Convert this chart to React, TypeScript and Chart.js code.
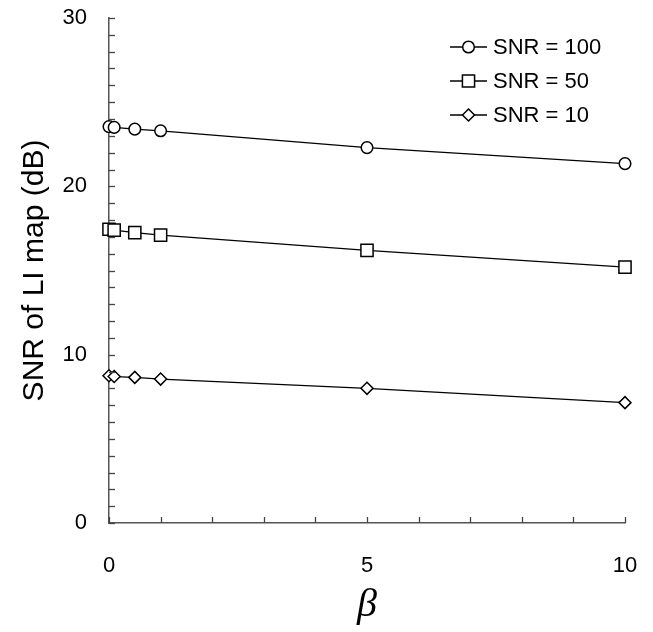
import React, { useEffect, useRef } from "react";
import { Chart, registerables } from "chart.js";

Chart.register(...registerables);

const betaValues = [0, 0.1, 0.5, 1, 5, 10];
const snr100 = [23.55, 23.5, 23.4, 23.3, 22.3, 21.35];
const snr50 = [17.45, 17.4, 17.25, 17.1, 16.2, 15.2];
const snr10 = [8.75, 8.7, 8.65, 8.55, 8.0, 7.15];
const seriesLabels = ["SNR = 100", "SNR = 50", "SNR = 10"];
const xLabelValues = [0, 5, 10];
const yLabelValues = [0, 10, 20, 30];

const FONT = "Arial, 'Liberation Sans', sans-serif";

const innerTicks = {
  id: "innerTicks",
  afterDatasetsDraw(chart: any) {
    const ctx = chart.ctx;
    const { left, bottom } = chart.chartArea;
    ctx.save();
    ctx.strokeStyle = "#444";
    ctx.lineWidth = 1.3;
    const xs = chart.scales.x;
    xs.ticks.forEach((t: any) => {
      const px = Math.round(xs.getPixelForValue(t.value)) + 0.5;
      ctx.beginPath();
      ctx.moveTo(px, bottom);
      ctx.lineTo(px, bottom - 6);
      ctx.stroke();
    });
    const ys = chart.scales.y;
    ys.ticks.forEach((t: any) => {
      const py = Math.round(ys.getPixelForValue(t.value)) + 0.5;
      ctx.beginPath();
      ctx.moveTo(left, py);
      ctx.lineTo(left + 6, py);
      ctx.stroke();
    });
    ctx.restore();
  },
};

const customLegend = {
  id: "customLegend",
  afterDraw(chart: any) {
    const ctx = chart.ctx;
    const x0 = 450;
    const lineLen = 37;
    const textX = 493;
    const rows = [47, 81, 115];
    ctx.save();
    chart.data.datasets.forEach((ds: any, i: number) => {
      const y = rows[i];
      ctx.strokeStyle = "#000";
      ctx.lineWidth = 1.3;
      ctx.beginPath();
      ctx.moveTo(x0, y);
      ctx.lineTo(x0 + lineLen, y);
      ctx.stroke();
      const cx = x0 + lineLen / 2;
      ctx.fillStyle = "#fff";
      ctx.lineWidth = 1.5;
      ctx.beginPath();
      if (ds.pointStyle === "circle") {
        ctx.arc(cx, y, ds.pointRadius, 0, Math.PI * 2);
      } else if (ds.pointStyle === "rect") {
        const s = ds.pointRadius * Math.SQRT1_2;
        ctx.rect(cx - s, y - s, 2 * s, 2 * s);
      } else {
        const r = ds.pointRadius;
        ctx.moveTo(cx - r, y);
        ctx.lineTo(cx, y - r);
        ctx.lineTo(cx + r, y);
        ctx.lineTo(cx, y + r);
        ctx.closePath();
      }
      ctx.fill();
      ctx.stroke();
      ctx.fillStyle = "#000";
      ctx.font = `22px ${FONT}`;
      ctx.textBaseline = "middle";
      ctx.textAlign = "left";
      ctx.fillText(ds.label, textX, y + 1);
    });
    ctx.restore();
  },
};

function makeDataset(label: string, values: number[], style: string, radius: number) {
  return {
    label,
    data: betaValues.map((b, i) => ({ x: b, y: values[i] })),
    borderColor: "#000",
    borderWidth: 1.3,
    pointStyle: style,
    pointRadius: radius,
    pointHoverRadius: radius,
    pointBackgroundColor: "#fff",
    pointBorderColor: "#000",
    pointBorderWidth: 1.5,
    tension: 0,
    clip: false as any,
  };
}

export default function App() {
  const canvasRef = useRef<HTMLCanvasElement | null>(null);

  useEffect(() => {
    const canvas = canvasRef.current;
    if (!canvas) return;
    const chart = new Chart(canvas, {
      type: "line",
      data: {
        datasets: [
          makeDataset(seriesLabels[0], snr100, "circle", 5.8),
          makeDataset(seriesLabels[1], snr50, "rect", 8.6),
          makeDataset(seriesLabels[2], snr10, "rectRot", 6),
        ],
      },
      options: {
        responsive: false,
        animation: false,
        events: [],
        layout: { padding: { top: 18, right: 28, left: 0, bottom: 0 } },
        plugins: {
          legend: { display: false },
          tooltip: { enabled: false },
        },
        scales: {
          x: {
            type: "linear",
            min: 0,
            max: 10,
            afterFit: (s: any) => {
              s.height = 109;
              s.paddingLeft = 0;
              s.paddingRight = 0;
            },
            grid: { display: false, drawTicks: false },
            border: { display: true, color: "#555", width: 1.5 },
            ticks: {
              stepSize: 1,
              autoSkip: false,
              maxRotation: 0,
              padding: 30,
              color: "#000",
              font: { family: FONT, size: 22 },
              callback: (v: any) => (xLabelValues.includes(Number(v)) ? String(v) : ""),
            },
            title: {
              display: true,
              text: "β",
              color: "#000",
              font: { family: "'Liberation Serif', 'Times New Roman', serif", size: 40, style: "italic" },
              padding: { top: 0, bottom: 3 },
            },
          },
          y: {
            type: "linear",
            min: 0,
            max: 30,
            afterFit: (s: any) => {
              s.width = 109;
              s.paddingTop = 0;
              s.paddingBottom = 0;
            },
            grid: { display: false, drawTicks: false },
            border: { display: true, color: "#555", width: 1.5 },
            ticks: {
              stepSize: 1,
              autoSkip: false,
              padding: 22,
              color: "#000",
              font: { family: FONT, size: 22 },
              callback: (v: any) => (yLabelValues.includes(Number(v)) ? String(v) : ""),
            },
            title: {
              display: true,
              text: "SNR of LI map (dB)",
              color: "#000",
              font: { family: FONT, size: 30 },
              padding: { top: 17, bottom: 0 },
            },
          },
        },
      },
      plugins: [innerTicks, customLegend],
    });
    return () => chart.destroy();
  }, []);

  return (
    <div style={{ position: "absolute", left: 0, top: 0, width: 653, height: 632, background: "#fff" }}>
      <canvas ref={canvasRef} width={653} height={632} />
    </div>
  );
}
